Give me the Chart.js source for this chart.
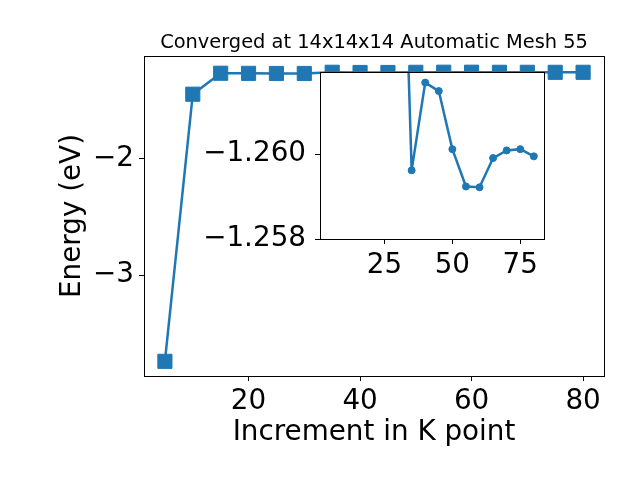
<!DOCTYPE html>
<html>
<head>
<meta charset="utf-8">
<script src="https://cdn.jsdelivr.net/npm/chart.js@4.4.1/dist/chart.umd.min.js"></script>
<style>
  html, body { margin: 0; padding: 0; background: #fff; }
  #wrap { position: relative; width: 640px; height: 480px; }
  #wrap canvas { position: absolute; left: 0; top: 0; }
</style>
</head>
<body>
<div id="wrap">
  <canvas id="mainChart" width="640" height="480"></canvas>
  <canvas id="insetChart" width="640" height="480"></canvas>
</div>
<script>
// k-point increments and total energies (eV)
const kPoints = [5, 10, 15, 20, 25, 30, 35, 40, 45, 50, 55, 60, 65, 70, 75, 80];
const energy = [-3.741, -1.448, -1.268, -1.269, -1.270, -1.270, -1.25962, -1.26169,
                -1.26149, -1.26012, -1.25924, -1.25922, -1.25991, -1.26009, -1.26012, -1.25995];

const mainXTicks = [20, 40, 60, 80];
const mainYTicks = [-3, -2];
const insetXTicks = [25, 50, 75];
const insetYTicks = [-1.260, -1.258];

const titleText = 'Converged at 14x14x14 Automatic Mesh 55';
const xLabel = 'Increment in K point';
const yLabel = 'Energy (eV)';

const blue = '#1f77b4';
const bigFont = 27.8;

Chart.defaults.font.family = 'DejaVu Sans';
Chart.defaults.color = '#000';

const minusFmt = (v, digits) => (v < 0 ? '\u2212' : '') + Math.abs(v).toFixed(digits);

// white axes background + black frame, like matplotlib spines
const framePlugin = {
    id: 'frame',
    beforeDraw(chart, args, opts) {
        if (!opts.fill) return;
        const { ctx, chartArea: a } = chart;
        ctx.save();
        ctx.fillStyle = '#fff';
        ctx.fillRect(a.left, a.top, a.right - a.left, a.bottom - a.top);
        ctx.restore();
    },
    afterDatasetsDraw(chart) {
        const { ctx, chartArea: a } = chart;
        ctx.save();
        ctx.strokeStyle = '#000';
        ctx.lineWidth = 1;
        ctx.strokeRect(Math.floor(a.left) + 0.5, Math.floor(a.top) + 0.5,
            Math.round(a.right - a.left), Math.round(a.bottom - a.top));
        ctx.restore();
    }
};

// title centred over the axes, not over the whole canvas
const axesTitle = {
    id: 'axesTitle',
    afterDraw(chart, args, opts) {
        if (!opts.text) return;
        const { ctx, chartArea: a } = chart;
        ctx.save();
        ctx.font = `normal ${opts.size}px 'DejaVu Sans'`;
        ctx.fillStyle = '#000';
        ctx.textAlign = 'center';
        ctx.textBaseline = 'alphabetic';
        ctx.fillText(opts.text, (a.left + a.right) / 2, a.top - opts.gap);
        ctx.restore();
    }
};

const points = kPoints.map((k, i) => ({ x: k, y: energy[i] }));

const tickGrid = { drawOnChartArea: false, drawTicks: true, tickLength: 5, tickColor: '#000', tickWidth: 1 };

// Main plot
new Chart(document.getElementById('mainChart').getContext('2d'), {
    type: 'line',
    data: {
        datasets: [{
            data: points,
            borderColor: blue,
            backgroundColor: blue,
            borderWidth: 2.5,
            pointStyle: 'rect',
            pointRadius: 10,
            pointBorderWidth: 1,
            pointBorderColor: blue,
            tension: 0
        }]
    },
    options: {
        responsive: false,
        animation: false,
        devicePixelRatio: 1,
        layout: { padding: { left: 0, top: 56, right: 36, bottom: 0 } },
        plugins: {
            legend: { display: false },
            tooltip: { enabled: false },
            title: { display: false },
            axesTitle: { text: titleText, size: 19.4, gap: 8.3 },
            frame: { fill: false }
        },
        scales: {
            x: {
                type: 'linear',
                min: 1.25,
                max: 83.75,
                afterBuildTicks: s => { s.ticks = mainXTicks.map(v => ({ value: v })); },
                afterFit: s => { s.height = 104; },
                grid: tickGrid,
                border: { display: false },
                ticks: { font: { size: bigFont }, color: '#000', padding: 4, maxRotation: 0, autoSkip: false },
                title: { display: true, text: xLabel, color: '#000', font: { size: bigFont }, padding: { top: 0, bottom: 31 } }
            },
            y: {
                type: 'linear',
                min: -3.867,
                max: -1.120,
                afterBuildTicks: s => { s.ticks = mainYTicks.map(v => ({ value: v })); },
                afterFit: s => { s.width = 144; },
                grid: tickGrid,
                border: { display: false },
                ticks: { font: { size: bigFont }, color: '#000', padding: 5, autoSkip: false, callback: v => minusFmt(v, 0) },
                title: { display: true, text: yLabel, color: '#000', font: { size: bigFont }, padding: { top: 56, bottom: 0 } }
            }
        }
    },
    plugins: [framePlugin, axesTitle]
});

// Inset, same data, zoomed and flipped
new Chart(document.getElementById('insetChart').getContext('2d'), {
    type: 'line',
    data: {
        datasets: [{
            data: points,
            borderColor: blue,
            backgroundColor: blue,
            borderWidth: 2.5,
            pointStyle: 'circle',
            pointRadius: 3.5,
            pointBorderWidth: 1,
            pointBorderColor: blue,
            tension: 0,
            clip: 0
        }]
    },
    options: {
        responsive: false,
        animation: false,
        devicePixelRatio: 1,
        layout: { padding: { left: 0, top: 72, right: 96, bottom: 0 } },
        plugins: {
            legend: { display: false },
            tooltip: { enabled: false },
            title: { display: false },
            frame: { fill: true }
        },
        scales: {
            x: {
                type: 'linear',
                min: 1.25,
                max: 83.75,
                afterBuildTicks: s => { s.ticks = insetXTicks.map(v => ({ value: v })); },
                afterFit: s => { s.height = 241; },
                grid: tickGrid,
                border: { display: false },
                ticks: { font: { size: bigFont }, color: '#000', padding: 5, maxRotation: 0, autoSkip: false }
            },
            y: {
                type: 'linear',
                reverse: true,
                min: -1.26194,
                max: -1.258,
                afterBuildTicks: s => { s.ticks = insetYTicks.map(v => ({ value: v })); },
                afterFit: s => { s.width = 320; },
                grid: tickGrid,
                border: { display: false },
                ticks: { font: { size: bigFont }, color: '#000', padding: 9, autoSkip: false, callback: v => minusFmt(v, 3) }
            }
        }
    },
    plugins: [framePlugin]
});
</script>
</body>
</html>
